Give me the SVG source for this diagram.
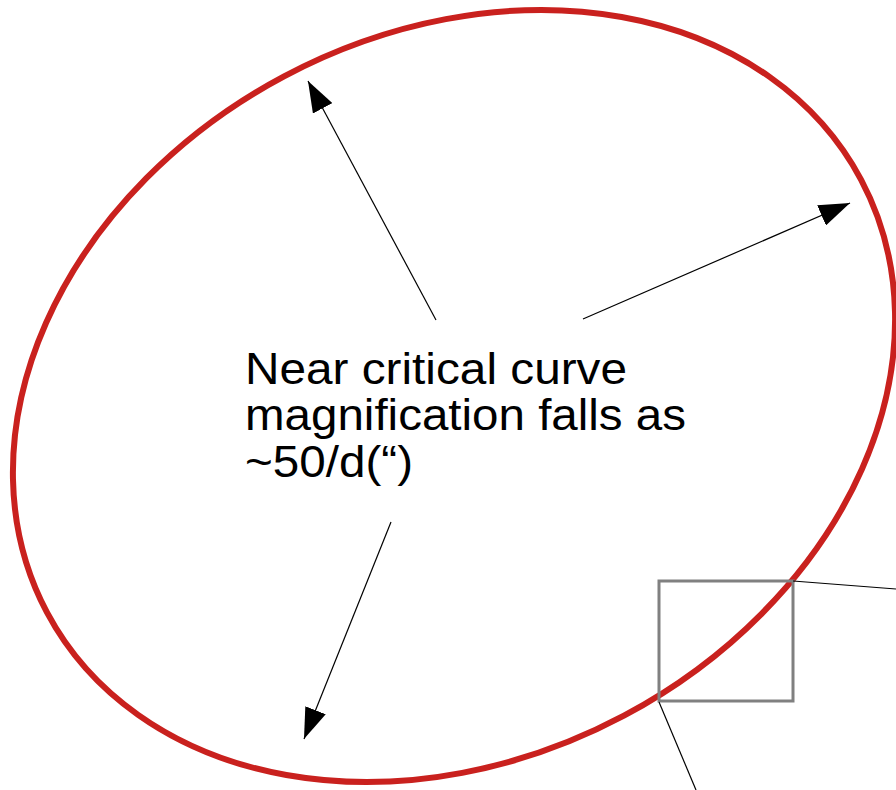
<svg xmlns="http://www.w3.org/2000/svg" width="896" height="790" viewBox="0 0 896 790">
<style>
.curve{fill:none;stroke:#c9211e;stroke-width:6}
.box{fill:none;stroke:#808080;stroke-width:3}
.lead{fill:none;stroke:#000;stroke-width:1.2}
.arr{fill:none;stroke:#000;stroke-width:1.2;marker-end:url(#head)}
.lbl{font-family:"Liberation Sans",Arial,sans-serif;font-size:45px;fill:#000}
</style>
<defs>
<marker id="head" markerUnits="userSpaceOnUse" markerWidth="32" markerHeight="22" refX="31" refY="11" orient="auto">
<path d="M0,0 L31,11 L0,22 z" fill="#000"/>
</marker>
</defs>
<rect width="896" height="790" fill="#fff"/>
<g id="critical-curve">
<ellipse class="curve" cx="454" cy="396" rx="461" ry="362" transform="rotate(-28 454 396)"/>
</g>
<g id="zoom-box">
<rect class="box" x="659" y="581" width="134" height="120"/>
</g>
<g id="connectors">
<path class="lead" d="M793,581 L896,589"/>
<path class="lead" d="M659,702 L696,790"/>
<path class="arr" d="M436,320 L308,81"/>
<path class="arr" d="M583,319 L850,203"/>
<path class="arr" d="M391,522 L304,739"/>
</g>
<g id="label">
<text class="lbl" x="245" y="384" textLength="382" lengthAdjust="spacingAndGlyphs">Near critical curve</text>
<text class="lbl" x="245" y="430" textLength="441" lengthAdjust="spacingAndGlyphs">magnification falls as</text>
<text class="lbl" x="245" y="477" textLength="168" lengthAdjust="spacingAndGlyphs">~50/d(“)</text>
</g>
</svg>
